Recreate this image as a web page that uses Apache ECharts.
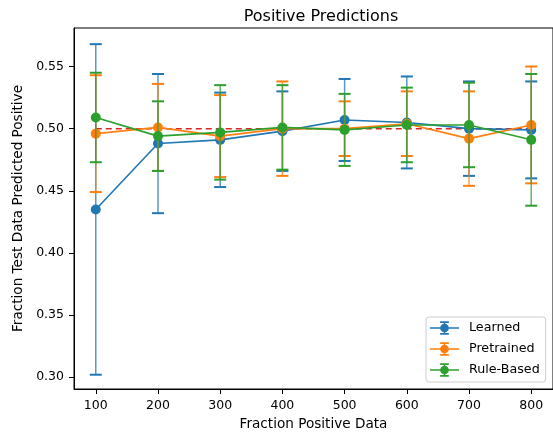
<!DOCTYPE html>
<html>
<head>
<meta charset="utf-8">
<script src="https://cdn.jsdelivr.net/npm/echarts@6/dist/echarts.min.js"></script>
<style>
  html, body { margin: 0; padding: 0; background: #fff; }
  #chart { width: 553px; height: 437px; }
</style>
</head>
<body>
<div id="chart"></div>
<script>
// data
const xs = [100, 200, 300, 400, 500, 600, 700, 800];
const learnedMean = [0.435, 0.488, 0.491, 0.498, 0.507, 0.505, 0.500, 0.499];
const learnedErr = [0.133, 0.056, 0.038, 0.032, 0.033, 0.037, 0.038, 0.039];
const pretrainedMean = [0.496, 0.501, 0.494, 0.500, 0.500, 0.504, 0.492, 0.503];
const pretrainedErr = [0.047, 0.035, 0.033, 0.038, 0.022, 0.026, 0.038, 0.047];
const ruleMean = [0.509, 0.494, 0.497, 0.501, 0.499, 0.503, 0.503, 0.491];
const ruleErr = [0.036, 0.028, 0.038, 0.034, 0.029, 0.030, 0.034, 0.053];
const baseline = 0.5;
const xTicks = [100, 200, 300, 400, 500, 600, 700, 800];
const yTicks = [0.30, 0.35, 0.40, 0.45, 0.50, 0.55];

const font = 'DejaVu Sans';
// legend icon: line + error bar with caps + marker (all subpaths clockwise)
const errIcon = 'path://M0 6.3H30V7.7H0Z M14.2 0H15.8V14H14.2Z M10.5 0H19.5V1.8H10.5Z M10.5 12.2H19.5V14H10.5Z M10.5 7A4.5 4.5 0 1 1 19.5 7A4.5 4.5 0 1 1 10.5 7Z';

function errSeries(name, color, mean, err, z) {
  return {
    name: name,
    type: 'custom',
    z: z,
    itemStyle: { color: color },
    data: xs.map((x, i) => [x, mean[i] - err[i], mean[i] + err[i]]),
    renderItem: function (params, api) {
      const lo = api.coord([api.value(0), api.value(1)]);
      const hi = api.coord([api.value(0), api.value(2)]);
      const cap = 6;
      return {
        type: 'group',
        children: [
          { type: 'line', shape: { x1: lo[0], y1: lo[1], x2: hi[0], y2: hi[1] },
            style: { stroke: color, lineWidth: 1.5, opacity: 0.75 } },
          { type: 'line', shape: { x1: lo[0] - cap, y1: lo[1], x2: lo[0] + cap, y2: lo[1] },
            style: { stroke: color, lineWidth: 2 } },
          { type: 'line', shape: { x1: hi[0] - cap, y1: hi[1], x2: hi[0] + cap, y2: hi[1] },
            style: { stroke: color, lineWidth: 2 } }
        ]
      };
    }
  };
}

function lineSeries(name, color, mean, z) {
  return {
    name: name,
    type: 'line',
    z: z,
    data: xs.map((x, i) => [x, mean[i]]),
    symbol: 'circle',
    symbolSize: 10,
    showSymbol: true,
    itemStyle: { color: color },
    lineStyle: { color: color, width: 1.6 }
  };
}

const chart = echarts.init(document.getElementById('chart'));
chart.setOption({
  animation: false,
  title: {
    text: 'Positive Predictions',
    left: 316, top: 4, textAlign: 'center',
    textStyle: { fontFamily: font, fontSize: 16, fontWeight: 'normal', color: '#000' }
  },
  grid: {
    left: 74, top: 28, right: -4, bottom: 48,
    show: true, borderColor: '#000', borderWidth: 1
  },
  legend: {
    left: 426, top: 317,
    orient: 'vertical',
    itemWidth: 29, itemHeight: 14, itemGap: 7,
    padding: [4, 6, 5, 4],
    borderColor: '#cccccc', borderWidth: 1, borderRadius: 3,
    backgroundColor: 'rgba(255,255,255,0.8)',
    itemStyle: { borderWidth: 0 },
    textStyle: { fontFamily: font, fontSize: 12.7, lineHeight: 14, color: '#000', padding: [0, 0, 0, 5] },
    data: [
      { name: 'Learned', icon: errIcon },
      { name: 'Pretrained', icon: errIcon },
      { name: 'Rule-Based', icon: errIcon }
    ]
  },
  xAxis: {
    type: 'value', min: 65, max: 835,
    name: 'Fraction Positive Data', nameLocation: 'middle', nameGap: 28,
    nameTextStyle: { fontFamily: font, fontSize: 13.6, color: '#000' },
    axisLine: { lineStyle: { color: '#000', width: 1 } },
    axisTick: { show: true, length: 5, customValues: xTicks, lineStyle: { color: '#000' } },
    axisLabel: { customValues: xTicks, fontFamily: font, fontSize: 12.5, color: '#000', margin: 10 },
    splitLine: { show: false }
  },
  yAxis: {
    type: 'value', min: 0.2905, max: 0.581,
    name: 'Fraction Test Data Predicted Positive', nameLocation: 'middle', nameGap: 47,
    nameTextStyle: { fontFamily: font, fontSize: 13.6, color: '#000' },
    axisLine: { show: true, lineStyle: { color: '#000', width: 1 } },
    axisTick: { show: true, length: 5, customValues: yTicks, lineStyle: { color: '#000' } },
    axisLabel: { customValues: yTicks, fontFamily: font, fontSize: 12.5, color: '#000', margin: 10,
      formatter: v => v.toFixed(2) },
    splitLine: { show: false }
  },
  series: [
    {
      name: 'baseline', type: 'line', z: 1,
      data: [[xs[0], baseline], [xs[xs.length - 1], baseline]],
      symbol: 'none',
      lineStyle: { color: '#d62728', width: 1.5, type: [6, 4] }
    },
    errSeries('Learned', '#1f77b4', learnedMean, learnedErr, 2),
    lineSeries('Learned', '#1f77b4', learnedMean, 3),
    errSeries('Pretrained', '#ff7f0e', pretrainedMean, pretrainedErr, 4),
    lineSeries('Pretrained', '#ff7f0e', pretrainedMean, 5),
    errSeries('Rule-Based', '#2ca02c', ruleMean, ruleErr, 6),
    lineSeries('Rule-Based', '#2ca02c', ruleMean, 7)
  ]
});
</script>
</body>
</html>
